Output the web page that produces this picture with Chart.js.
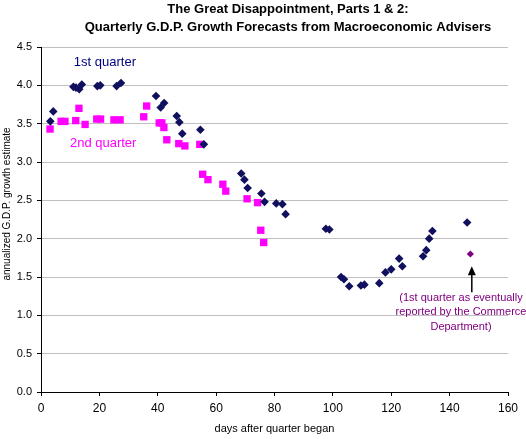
<!DOCTYPE html>
<html>
<head>
<meta charset="utf-8">
<script src="https://cdn.jsdelivr.net/npm/chart.js@4/dist/chart.umd.min.js"></script>
<style>
  html, body { margin: 0; padding: 0; background: #fff; }
  #wrap { width: 526px; height: 439px; }
</style>
</head>
<body>
<div id="wrap"><canvas id="gdpChart" width="526" height="439"></canvas></div>
<script>
// 1st quarter forecasts (navy diamonds)
const q1Days = [3.2, 4.2, 11.1, 12.0, 13.1, 14.0, 19.3, 20.3, 25.9, 27.4,
  39.4, 41.0, 42.2, 46.5, 47.4, 48.4, 54.6, 55.8, 68.6, 69.7, 70.8, 75.5,
  76.6, 80.6, 82.7, 83.8, 97.6, 98.8, 102.8, 103.8, 105.6, 109.6, 110.8,
  115.9, 118.0, 120.0, 122.7, 123.8, 130.9, 132.0, 133.0, 134.1, 146.0];
const q1Growth = [3.53, 3.66, 3.98, 3.97, 3.95, 4.01, 3.99, 4.00, 3.99, 4.03,
  3.86, 3.71, 3.77, 3.60, 3.52, 3.37, 3.42, 3.23, 2.85, 2.77, 2.66, 2.59,
  2.48, 2.46, 2.45, 2.32, 2.13, 2.12, 1.50, 1.47, 1.38, 1.39, 1.40,
  1.42, 1.56, 1.60, 1.74, 1.64, 1.77, 1.85, 2.00, 2.10, 2.21];

// 2nd quarter forecasts (pink squares)
const q2Days = [3.1, 6.9, 8.2, 11.9, 13.0, 15.1, 19.1, 20.4, 25.0, 27.1,
  35.2, 36.2, 40.5, 41.4, 42.1, 43.1, 47.2, 49.3, 54.4, 55.4, 57.2, 62.3,
  63.3, 70.6, 74.2, 75.3, 76.3];
const q2Growth = [3.43, 3.53, 3.53, 3.54, 3.70, 3.49, 3.56, 3.56, 3.55, 3.55,
  3.59, 3.73, 3.51, 3.51, 3.45, 3.29, 3.24, 3.21, 3.23, 2.84, 2.77, 2.71,
  2.62, 2.52, 2.47, 2.11, 1.95];

// 1st quarter as reported by Commerce Dept
const actualDays = [147.1];
const actualGrowth = [1.80];

const xTicks = [0, 20, 40, 60, 80, 100, 120, 140, 160];
const yTicks = [0, 0.5, 1, 1.5, 2, 2.5, 3, 3.5, 4, 4.5];

const titleLines = ['The Great Disappointment, Parts 1 & 2:',
  'Quarterly G.D.P. Growth Forecasts from Macroeconomic Advisers'];
const yTitle = 'annualized G.D.P. growth estimate';
const noteLines = ['(1st quarter as eventually', 'reported by the Commerce', 'Department)'];

const FONT = 'Arial, "Liberation Sans", Helvetica, sans-serif';

const toPoints = (xs, ys) => xs.map((x, i) => ({x: x, y: ys[i]}));

// draws title, y title, series labels, the note and its arrow
const textPlugin = {
  id: 'textPlugin',
  afterDraw(chart) {
    const ctx = chart.ctx;
    const xs = chart.scales.x, ys = chart.scales.y;
    ctx.save();
    ctx.textAlign = 'center';
    ctx.textBaseline = 'middle';

    ctx.fillStyle = '#000';
    ctx.font = 'bold 13px ' + FONT;
    ctx.fillText(titleLines[0], 288, 9);
    ctx.fillText(titleLines[1], 288, 27);

    // y axis title, a bit above the plot centre like the original
    ctx.save();
    ctx.translate(7, 204);
    ctx.rotate(-Math.PI / 2);
    ctx.font = '10px ' + FONT;
    ctx.fillText(yTitle, 0, 0);
    ctx.restore();

    ctx.font = '13px ' + FONT;
    ctx.fillStyle = '#000080';
    ctx.fillText('1st quarter', xs.getPixelForValue(21.9), ys.getPixelForValue(4.295));
    ctx.fillStyle = '#ff00ff';
    ctx.fillText('2nd quarter', xs.getPixelForValue(21.3), ys.getPixelForValue(3.244));

    ctx.font = '11px ' + FONT;
    ctx.fillStyle = '#800080';
    const nx = xs.getPixelForValue(143.9);
    const ny = ys.getPixelForValue(1.243);
    noteLines.forEach((t, i) => ctx.fillText(t, nx, ny + 1 + i * 14.6));

    // arrow
    const ax = xs.getPixelForValue(147.6);
    const aTop = ys.getPixelForValue(1.64);
    const aBot = ys.getPixelForValue(1.30);
    ctx.strokeStyle = '#000';
    ctx.lineWidth = 1.5;
    ctx.beginPath();
    ctx.moveTo(ax, aTop + 6);
    ctx.lineTo(ax, aBot);
    ctx.stroke();
    ctx.fillStyle = '#000';
    ctx.beginPath();
    ctx.moveTo(ax, aTop);
    ctx.lineTo(ax - 4, aTop + 9);
    ctx.lineTo(ax + 4, aTop + 9);
    ctx.closePath();
    ctx.fill();
    ctx.restore();
  }
};

new Chart(document.getElementById('gdpChart').getContext('2d'), {
  type: 'scatter',
  data: {
    datasets: [{
      label: '1st quarter',
      data: toPoints(q1Days, q1Growth),
      pointStyle: 'rectRot',
      pointRadius: 4.3,
      backgroundColor: '#10105e',
      borderColor: '#10105e',
      borderWidth: 0
    }, {
      label: '2nd quarter',
      data: toPoints(q2Days, q2Growth),
      pointStyle: 'rect',
      pointRadius: 5.2,
      backgroundColor: '#ff00ff',
      borderColor: '#ff00ff',
      borderWidth: 0
    }, {
      label: 'actual',
      data: toPoints(actualDays, actualGrowth),
      pointStyle: 'rectRot',
      pointRadius: 3.6,
      backgroundColor: '#800080',
      borderColor: '#800080',
      borderWidth: 0
    }]
  },
  options: {
    responsive: false,
    animation: false,
    layout: {
      padding: {top: 47, right: 18, left: 0, bottom: 0}
    },
    scales: {
      x: {
        type: 'linear',
        min: 0,
        max: 160,
        afterFit: (s) => { s.height = 47; },
        afterBuildTicks: (s) => { s.ticks = xTicks.map(v => ({value: v})); },
        ticks: {
          color: '#000',
          font: {family: FONT, size: 12},
          padding: 5,
          maxRotation: 0
        },
        grid: {
          drawOnChartArea: false,
          drawTicks: true,
          tickLength: 4,
          tickColor: '#000'
        },
        border: {color: '#000', width: 1},
        title: {
          display: true,
          text: 'days after quarter began',
          color: '#000',
          font: {family: FONT, size: 11},
          padding: {top: 0, bottom: 3}
        }
      },
      y: {
        type: 'linear',
        min: 0,
        max: 4.5,
        afterFit: (s) => { s.width = 41; },
        afterBuildTicks: (s) => { s.ticks = yTicks.map(v => ({value: v})); },
        ticks: {
          color: '#000',
          font: {family: FONT, size: 11},
          padding: 5,
          callback: (v) => v.toFixed(1)
        },
        grid: {
          color: '#c0c0c0',
          tickColor: '#000',
          tickLength: 4,
          lineWidth: 1
        },
        border: {color: '#000', width: 1},
        title: {display: false}
      }
    },
    plugins: {
      legend: {display: false},
      tooltip: {enabled: false},
      title: {display: false}
    }
  },
  plugins: [textPlugin]
});
</script>
</body>
</html>
